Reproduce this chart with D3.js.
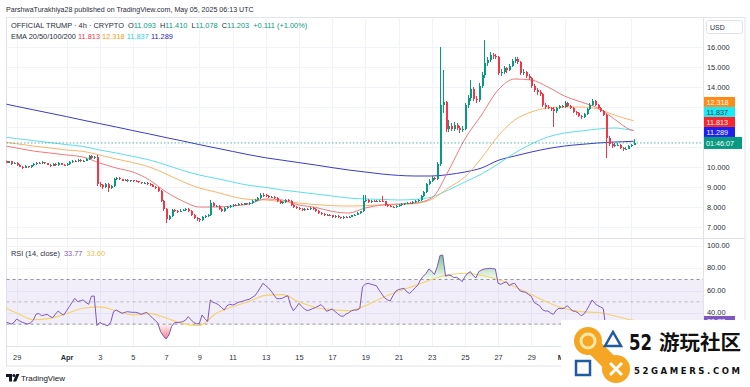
<!DOCTYPE html>
<html>
<head>
<meta charset="utf-8">
<script src="https://cdnjs.cloudflare.com/ajax/libs/d3/7.8.5/d3.min.js"></script>
<style>
  body { margin: 0; background: #fff; }
  svg { display: block; font-family: "Liberation Sans", Arial, sans-serif; }
</style>
</head>
<body>
<svg id="chart" width="750" height="387"></svg>
<script>
// ---- data (4h candles, Mar 28 00:00 UTC -> May 5 04:00 UTC) ----
const firstOpen = 10.32;
const closes = [
  10.38,10.30,10.22,10.28,10.15,10.20, 10.10,10.02,9.95,10.05,9.98,10.08,
  10.15,10.22,10.18,10.25,10.20,10.12, 10.05,10.15,10.10,10.20,10.12,10.08,
  10.15,10.25,10.32,10.28,10.35,10.30, 10.32,10.40,10.55,10.45,10.50,9.15,
  9.10,9.00,9.15,8.95,9.05,9.40,       9.45,9.38,9.32,9.35,9.30,9.33,
  9.30,9.28,9.25,9.20,9.22,9.15,       9.10,9.02,8.95,8.80,8.30,7.90,
  7.40,7.55,7.85,7.80,7.78,7.82,       7.85,7.90,7.80,7.60,7.45,7.40,
  7.35,7.50,7.55,7.60,8.20,8.05,       8.05,7.90,7.80,7.95,8.00,8.05,
  8.10,8.08,8.15,8.12,8.18,8.15,       8.20,8.30,8.35,8.45,8.62,8.58,
  8.55,8.50,8.52,8.45,8.30,8.20,       8.25,8.35,8.30,8.10,7.98,7.95,
  7.90,7.85,7.92,7.88,7.95,7.90,       7.80,7.70,7.65,7.60,7.62,7.58,
  7.50,7.55,7.48,7.45,7.52,7.50,       7.52,7.58,7.62,7.70,7.78,8.30,
  8.35,8.25,8.30,8.28,8.32,8.30,       8.28,8.10,8.05,8.02,8.00,8.05,
  8.10,8.15,8.18,8.22,8.20,8.25,       8.30,8.35,8.55,8.75,9.15,9.30,
  9.45,9.40,10.15,13.10,13.25,11.90,   12.05,11.90,12.10,11.95,11.85,11.92,
  13.10,13.45,13.90,13.40,13.35,14.05, 14.60,15.20,15.35,15.60,15.55,15.50,
  14.70,14.75,14.95,14.85,15.05,15.30, 15.40,15.25,14.70,14.75,14.55,14.45,
  14.05,13.85,13.75,13.65,13.10,13.00, 12.95,12.90,12.80,12.95,13.05,13.00,
  13.20,13.05,12.95,12.75,12.70,12.55, 12.50,12.65,12.90,13.10,13.30,13.10,
  12.95,12.80,12.60,11.45,11.15,11.05, 11.10,11.12,10.95,10.90,10.92,11.05,
  11.092,11.203
];
const highs = [
  10.42,10.41,10.33,10.31,10.30,10.24, 10.23,10.14,10.06,10.08,10.07,10.11,
  10.19,10.26,10.25,10.29,10.27,10.22, 10.15,10.18,10.18,10.23,10.22,10.15,
  10.18,10.28,10.36,10.35,10.39,10.38, 10.36,10.44,10.62,10.58,10.56,10.60,
  9.25,9.14,9.18,9.20,9.10,9.45,       9.52,9.49,9.41,9.39,9.38,9.36,
  9.36,9.33,9.31,9.27,9.25,9.24,       9.18,9.13,9.05,8.98,8.84,8.35,
  7.93,7.60,7.90,7.92,7.86,7.88,       7.92,7.96,7.93,7.83,7.64,7.50,
  7.45,7.54,7.60,7.66,8.35,8.24,       8.12,8.08,7.94,7.98,8.04,8.09,
  8.14,8.13,8.19,8.18,8.22,8.21,       8.24,8.34,8.40,8.50,8.72,8.68,
  8.64,8.60,8.57,8.56,8.48,8.34,       8.30,8.40,8.38,8.33,8.14,8.03,
  7.98,7.94,7.95,7.95,7.99,7.98,       7.93,7.83,7.73,7.69,7.66,7.65,
  7.61,7.58,7.58,7.52,7.55,7.55,       7.55,7.61,7.66,7.74,7.82,8.60,
  8.58,8.40,8.34,8.33,8.36,8.36,       8.55,8.31,8.13,8.08,8.05,8.08,
  8.13,8.19,8.22,8.26,8.26,8.29,       8.34,8.40,8.60,8.80,9.22,9.40,
  9.55,9.52,10.25,16.00,14.85,13.30,   12.35,12.20,12.25,12.20,12.05,12.05,
  13.20,13.60,14.35,13.98,13.55,14.20, 14.75,16.35,15.50,15.75,15.72,15.65,
  15.55,14.90,15.05,15.00,15.15,15.38, 15.52,15.48,15.30,14.88,14.82,14.65,
  14.52,14.15,13.95,13.85,13.72,13.22, 13.08,13.02,12.98,13.00,13.12,13.10,
  13.28,13.25,13.10,13.00,12.82,12.75, 12.60,12.70,12.95,13.18,13.42,13.35,
  13.15,13.00,12.85,12.65,11.55,11.25, 11.18,11.20,11.16,11.02,11.00,11.10,
  11.14,11.41
];
const lows = [
  10.28,10.27,10.18,10.19,10.12,10.13, 10.06,9.98,9.91,9.93,9.95,9.96,
  10.05,10.12,10.14,10.15,10.17,10.09, 10.01,10.03,10.07,10.07,10.09,10.04,
  10.05,10.12,10.22,10.25,10.25,10.27, 10.26,10.29,10.37,10.42,10.40,9.05,
  9.00,8.92,8.96,8.75,8.90,9.02,       9.36,9.34,9.28,9.28,9.26,9.27,
  9.27,9.25,9.21,9.17,9.17,9.12,       9.06,8.98,8.90,8.76,8.25,7.82,
  7.20,7.35,7.50,7.74,7.72,7.74,       7.78,7.81,7.76,7.56,7.40,7.30,
  7.25,7.32,7.45,7.50,7.55,8.00,       7.98,7.87,7.75,7.77,7.91,7.96,
  8.02,8.04,8.05,8.09,8.09,8.12,       8.12,8.17,8.26,8.31,8.42,8.52,
  8.50,8.46,8.46,8.41,8.26,8.15,       8.16,8.21,8.26,8.06,7.94,7.90,
  7.86,7.81,7.82,7.85,7.85,7.87,       7.76,7.66,7.61,7.56,7.57,7.54,
  7.46,7.47,7.44,7.41,7.42,7.46,       7.47,7.49,7.55,7.59,7.67,7.75,
  8.24,8.21,8.22,8.24,8.25,8.26,       8.24,8.06,8.01,7.98,7.96,7.97,
  8.02,8.07,8.12,8.15,8.16,8.17,       8.21,8.26,8.32,8.50,8.71,9.08,
  9.25,9.33,9.36,10.05,12.70,11.75,    11.75,11.78,11.80,11.85,11.70,11.74,
  11.85,12.95,13.30,13.30,13.20,13.25, 13.95,14.45,15.05,15.25,15.40,15.38,
  14.60,14.55,14.65,14.72,14.78,15.00, 15.20,15.15,14.60,14.62,14.45,14.35,
  13.95,13.75,13.62,13.55,13.02,12.90, 12.88,12.82,12.00,12.72,12.90,12.93,
  12.95,13.00,12.90,12.70,12.62,12.48, 12.42,12.45,12.60,12.85,13.05,13.05,
  12.90,12.75,12.55,10.45,11.05,10.95, 11.00,11.04,10.90,10.82,10.85,10.88,
  11.00,11.078
];

// EMA values read once a day (00:00 UTC, Mar 28 -> May 5) plus the live bar
const ema20 = [11.10,10.95,10.80,10.70,10.60,10.50,10.20,9.95,9.75,9.35,8.75,8.30,8.00,8.00,8.05,8.15,8.40,8.35,8.10,7.98,
  7.78,7.70,7.95,8.10,8.15,8.20,8.45,9.80,11.40,12.60,13.85,14.40,14.35,14.00,13.55,13.25,12.95,12.40,11.85,11.813];
const ema50 = [11.27,11.16,11.05,10.95,10.85,10.78,10.60,10.40,10.22,10.00,9.65,9.27,8.95,8.75,8.52,8.38,8.35,8.27,8.20,8.12,
  8.07,8.05,8.07,8.10,8.12,8.17,8.38,8.95,9.50,10.45,11.55,12.35,12.75,12.95,13.00,13.00,12.90,12.60,12.35,12.318];
const ema100 = [11.52,11.42,11.32,11.22,11.12,11.03,10.85,10.70,10.53,10.35,10.10,9.83,9.60,9.43,9.25,9.08,8.98,8.85,8.75,8.65,
  8.55,8.45,8.40,8.38,8.35,8.38,8.50,8.85,9.25,9.65,10.15,10.70,11.15,11.50,11.70,11.80,11.90,11.95,11.85,11.837];
const ema200 = [13.21,13.03,12.86,12.69,12.52,12.34,12.17,12.00,11.82,11.65,11.47,11.30,11.12,10.95,10.78,10.61,10.46,10.34,10.22,10.10,
  9.97,9.85,9.75,9.65,9.58,9.55,9.55,9.62,9.75,9.95,10.33,10.55,10.75,10.92,11.05,11.13,11.20,11.25,11.28,11.289];

// RSI(14) per candle and its moving average (daily + live bar)
const rsi = [
  33.0,32.5,31.8,31.2,30.0,31.5, 34.6,33.0,31.7,30.8,30.0,31.2, 33.5,39.0,39.5,37.6,38.2,38.8,
  37.0,35.8,39.0,41.8,39.5,38.2, 42.0,45.7,49.5,53.2,50.1,51.0, 51.7,49.5,47.8,55.0,55.2,28.7,
  31.5,30.2,29.3,28.6,32.0,41.2, 42.7,41.2,39.7,40.5,41.2,40.8, 40.6,40.6,40.0,38.8,39.8,40.6,
  38.0,35.8,33.5,31.0,23.3,19.5, 16.8,20.3,28.0,31.2,31.5,31.7, 32.2,33.5,36.7,34.0,31.5,30.3,
  30.5,38.2,35.0,32.3,51.7,49.5, 48.7,47.2,45.0,42.7,46.5,47.8, 47.2,48.0,49.5,50.1,50.8,51.7,
  52.2,53.8,55.2,58.5,62.5,66.6, 64.5,62.5,59.5,56.0,52.8,52.8, 53.2,54.5,55.5,47.0,42.0,45.0,
  48.7,46.0,43.5,42.2,42.8,44.0, 44.8,46.2,47.5,45.0,41.5,42.5, 43.6,41.5,39.4,37.5,37.0,39.0,
  40.2,42.0,42.7,42.7,44.0,63.5, 65.8,66.6,65.8,65.1,64.5,60.5, 57.0,53.5,51.8,50.8,55.5,59.5,
  61.0,61.6,62.1,59.0,57.5,59.8, 62.5,65.0,70.0,73.0,75.5,79.5, 77.5,74.5,81.5,91.5,91.9,73.0,
  74.0,73.5,71.8,72.0,70.5,68.0, 72.5,75.6,77.0,73.5,71.5,77.0, 78.5,79.4,79.7,80.0,79.7,79.4,
  66.6,65.7,67.0,68.0,64.5,66.0, 66.6,63.0,59.7,59.0,58.5,56.5, 55.0,49.5,48.0,46.6,43.0,41.8,
  41.8,40.0,38.8,42.5,44.2,43.8, 44.5,46.6,44.0,41.8,41.4,40.0, 37.5,39.0,42.5,47.0,51.7,48.5,
  46.6,45.5,44.0,26.0,24.0,22.5, 24.5,25.5,23.0,22.0,23.5,27.5, 30.5,33.77
];
const rsiMA = [47.0,40.0,34.0,35.2,39.5,44.2,45.5,42.0,38.3,39.7,35.5,30.5,28.8,39.5,45.5,50.5,55.8,56.5,50.0,45.0,
  43.0,42.0,46.5,53.5,59.5,64.5,70.0,74.2,75.6,73.8,70.0,63.5,56.5,49.5,44.0,41.2,40.4,37.5,33.9,33.6];

const priceTicks = [7, 8, 9, 10, 11, 12, 13, 14, 15, 16];
const rsiTicks = [40, 60, 80, 100];
const rsiBands = [70, 50, 30];
const timeTicks = ["2025-03-29","2025-04-01","2025-04-03","2025-04-05","2025-04-07","2025-04-09","2025-04-11",
  "2025-04-13","2025-04-15","2025-04-17","2025-04-19","2025-04-21","2025-04-23","2025-04-25","2025-04-27",
  "2025-04-29","2025-05-01","2025-05-03","2025-05-05"];
const emaLabels = [
  { name: "EMA 200", value: 11.289, color: "#1e1ef0", text: "#fff" },
  { name: "EMA 20",  value: 11.813, color: "#f7262b", text: "#fff" },
  { name: "EMA 100", value: 11.837, color: "#1de9f6", text: "#1a3c44" },
  { name: "EMA 50",  value: 12.318, color: "#fb8c1a", text: "#fff" }
];
const lastPrice = 11.203;
const lastRsi = 33.77;

// ---- layout ----
const W = 750, H = 387;
const L = 6.5, R = 703;
const pTop = 17.5, pBot = 238, rTop = 238, rBot = 346, axisBot = 366;
const WM_X = 561, WM_Y = 320;   // top-left corner of the site watermark
const GREEN = "#089981", RED = "#f23645";

const svg = d3.select("#chart");
const H4 = 4 * 3600e3;
const T0 = Date.UTC(2025, 2, 28, 0);
const candleTime = i => new Date(T0 + i * H4);
const dayTime = i => i < 39 ? new Date(T0 + i * 24 * 3600e3) : new Date(T0 + 229 * H4);

const x = d3.scaleUtc()
  .domain([new Date(Date.UTC(2025, 2, 29)), new Date(Date.UTC(2025, 4, 1))])
  .range([16.7, 564.5]);
const y = d3.scaleLinear().domain([7, 16]).range([227, 47]);
const yr = d3.scaleLinear().domain([40, 100]).range([313, 246]);

const candles = closes.map((c, i) => ({
  t: candleTime(i), o: i === 0 ? firstOpen : closes[i - 1], h: highs[i], l: lows[i], c
}));

const defs = svg.append("defs");
defs.append("clipPath").attr("id", "clipP").append("rect")
  .attr("x", L).attr("y", pTop).attr("width", R - L).attr("height", pBot - pTop);
defs.append("clipPath").attr("id", "clipR").append("rect")
  .attr("x", L).attr("y", rTop).attr("width", R - L).attr("height", rBot - rTop);
const gUp = defs.append("linearGradient").attr("id", "gUp").attr("gradientUnits", "userSpaceOnUse")
  .attr("x1", 0).attr("x2", 0).attr("y1", yr(100)).attr("y2", yr(70));
gUp.append("stop").attr("offset", 0).attr("stop-color", "#2e9e4e").attr("stop-opacity", 0.9);
gUp.append("stop").attr("offset", 1).attr("stop-color", "#4caf50").attr("stop-opacity", 0.05);
const gDn = defs.append("linearGradient").attr("id", "gDn").attr("gradientUnits", "userSpaceOnUse")
  .attr("x1", 0).attr("x2", 0).attr("y1", yr(30)).attr("y2", yr(10));
gDn.append("stop").attr("offset", 0).attr("stop-color", "#f23645").attr("stop-opacity", 0.05);
gDn.append("stop").attr("offset", 1).attr("stop-color", "#f23645").attr("stop-opacity", 0.9);

svg.append("rect").attr("width", W).attr("height", H).attr("fill", "#fff");

// header
svg.append("text").attr("x", 6).attr("y", 12).attr("font-size", 7.1).attr("fill", "#2a2e39")
  .text("ParshwaTurakhiya28 published on TradingView.com, May 05, 2025 06:13 UTC");

// frame
svg.append("rect").attr("x", L).attr("y", pTop).attr("width", 745 - L).attr("height", axisBot - pTop)
  .attr("fill", "none").attr("stroke", "#e0e3eb").attr("stroke-width", 1);

// grid
const grid = svg.append("g").attr("stroke", "#f0f3fa").attr("stroke-width", 1);
timeTicks.forEach(s => {
  const xx = Math.round(x(new Date(s + "T00:00:00Z"))) + 0.5;
  if (xx < R) grid.append("line").attr("x1", xx).attr("x2", xx).attr("y1", pTop).attr("y2", rBot);
});
priceTicks.forEach(v => grid.append("line").attr("x1", L).attr("x2", R)
  .attr("y1", Math.round(y(v)) + 0.5).attr("y2", Math.round(y(v)) + 0.5));
rsiTicks.forEach(v => grid.append("line").attr("x1", L).attr("x2", R)
  .attr("y1", Math.round(yr(v)) + 0.5).attr("y2", Math.round(yr(v)) + 0.5));

// pane separators
svg.append("line").attr("x1", L).attr("x2", 745).attr("y1", pBot + 0.5).attr("y2", pBot + 0.5).attr("stroke", "#e0e3eb");
svg.append("line").attr("x1", L).attr("x2", 745).attr("y1", rBot + 0.5).attr("y2", rBot + 0.5).attr("stroke", "#e0e3eb");
svg.append("line").attr("x1", R + 0.5).attr("x2", R + 0.5).attr("y1", pTop).attr("y2", rBot).attr("stroke", "#e0e3eb");

// ---- price pane ----
const price = svg.append("g").attr("clip-path", "url(#clipP)");
const emaSeries = [
  { v: ema200, c: "#3b3bc9" }, { v: ema100, c: "#5fdcec" }, { v: ema50, c: "#fbb36b" }, { v: ema20, c: "#f0787c" }
];
const emaLine = d3.line().x((d, i) => x(dayTime(i))).y(d => y(d)).curve(d3.curveMonotoneX);
emaSeries.forEach(s => price.append("path").attr("d", emaLine(s.v))
  .attr("fill", "none").attr("stroke", s.c).attr("stroke-width", 1));

price.append("line").attr("x1", L).attr("x2", R).attr("y1", y(lastPrice)).attr("y2", y(lastPrice))
  .attr("stroke", GREEN).attr("stroke-opacity", 0.7).attr("stroke-dasharray", "1.5,2");

const cg = price.append("g").attr("shape-rendering", "crispEdges");
cg.selectAll("line").data(candles).join("line")
  .attr("x1", d => Math.round(x(d.t)) + 0.5).attr("x2", d => Math.round(x(d.t)) + 0.5)
  .attr("y1", d => y(Math.max(d.h, d.o, d.c))).attr("y2", d => y(Math.min(d.l, d.o, d.c)))
  .attr("stroke", d => d.c >= d.o ? GREEN : RED);
cg.selectAll("rect").data(candles).join("rect")
  .attr("x", d => Math.round(x(d.t)) - 0.5).attr("width", 2)
  .attr("y", d => y(Math.max(d.o, d.c)))
  .attr("height", d => Math.max(1, Math.abs(y(d.o) - y(d.c))))
  .attr("fill", d => d.c >= d.o ? GREEN : RED);

// legend
const leg1 = svg.append("text").attr("x", 11).attr("y", 27.5).attr("font-size", 7.4).attr("xml:space", "preserve");
leg1.append("tspan").attr("fill", "#2a2e39").text("OFFICIAL TRUMP · 4h · CRYPTO  O");
leg1.append("tspan").attr("fill", GREEN).text("11.093");
leg1.append("tspan").attr("fill", "#2a2e39").text("  H");
leg1.append("tspan").attr("fill", GREEN).text("11.410");
leg1.append("tspan").attr("fill", "#2a2e39").text("  L");
leg1.append("tspan").attr("fill", GREEN).text("11.078");
leg1.append("tspan").attr("fill", "#2a2e39").text("  C");
leg1.append("tspan").attr("fill", GREEN).text("11.203  +0.111 (+1.00%)");
const leg2 = svg.append("text").attr("x", 11).attr("y", 38.5).attr("font-size", 7.4).attr("xml:space", "preserve");
leg2.append("tspan").attr("fill", "#2a2e39").text("EMA 20/50/100/200 ");
leg2.append("tspan").attr("fill", "#f23645").text("11.813 ");
leg2.append("tspan").attr("fill", "#ff9800").text("12.318 ");
leg2.append("tspan").attr("fill", "#22d3ee").text("11.837 ");
leg2.append("tspan").attr("fill", "#1e1ec8").text("11.289");

// price tags, stacked upward from the live price tag
const pTagTop = y(lastPrice) - 6;
const tagBoxes = [[pTagTop, pTagTop + 12]];
let floor = pTagTop;
const tags = emaLabels.map(l => {
  const bottom = Math.min(y(l.value) + 5, floor);
  floor = bottom - 10;
  tagBoxes.push([floor, bottom]);
  return { ...l, top: floor };
});

// price axis (tick labels hidden behind tags are skipped, as in the original)
const shownTicks = priceTicks.filter(v => !tagBoxes.some(([a, b]) => y(v) + 3.5 > a && y(v) - 3.5 < b));
const pAxis = svg.append("g").attr("transform", `translate(${R},0)`)
  .call(d3.axisRight(y).tickValues(shownTicks).tickSize(0).tickPadding(4).tickFormat(d3.format(".3f")));
pAxis.select(".domain").remove();
pAxis.selectAll("text").attr("font-size", 7.4).attr("fill", "#2a2e39").attr("font-family", "Liberation Sans, Arial");

// USD box
svg.append("rect").attr("x", 706.5).attr("y", 20.5).attr("width", 36).attr("height", 13).attr("rx", 2)
  .attr("fill", "#fff").attr("stroke", "#e0e3eb");
svg.append("text").attr("x", 710).attr("y", 29.5).attr("font-size", 7).attr("fill", "#2a2e39").text("USD");

svg.append("rect").attr("x", 704).attr("y", pTagTop).attr("width", 38).attr("height", 12).attr("fill", GREEN);
svg.append("text").attr("x", 706).attr("y", pTagTop + 9).attr("font-size", 7.2).attr("fill", "#fff").text("01:46:07");
tags.forEach(l => {
  svg.append("rect").attr("x", 704).attr("y", l.top).attr("width", 31).attr("height", 10).attr("fill", l.color);
  svg.append("text").attr("x", 706.5).attr("y", l.top + 7.8).attr("font-size", 7.2).attr("fill", l.text)
    .text(d3.format(".3f")(l.value));
});

// ---- RSI pane ----
const rp = svg.append("g").attr("clip-path", "url(#clipR)");
rp.append("rect").attr("x", L).attr("width", R - L).attr("y", yr(70)).attr("height", yr(30) - yr(70))
  .attr("fill", "#7e57c2").attr("fill-opacity", 0.1);
rsiBands.forEach(v => rp.append("line").attr("x1", L).attr("x2", R).attr("y1", yr(v)).attr("y2", yr(v))
  .attr("stroke", "#787b86").attr("stroke-opacity", v === 50 ? 0.45 : 0.8).attr("stroke-dasharray", "3,3"));
const rx = (d, i) => x(candleTime(i));
rp.append("path").attr("fill", "url(#gUp)")
  .attr("d", d3.area().x(rx).y0(yr(70)).y1(d => yr(Math.max(70, d)))(rsi));
rp.append("path").attr("fill", "url(#gDn)")
  .attr("d", d3.area().x(rx).y0(yr(30)).y1(d => yr(Math.min(30, d)))(rsi));
rp.append("path").attr("fill", "none").attr("stroke", "#f5d36b").attr("stroke-width", 1.1)
  .attr("d", d3.line().x((d, i) => x(dayTime(i))).y(d => yr(d)).curve(d3.curveMonotoneX)(rsiMA));
rp.append("path").attr("fill", "none").attr("stroke", "#7e57c2").attr("stroke-width", 1)
  .attr("d", d3.line().x(rx).y(d => yr(d))(rsi));

const rl = svg.append("text").attr("x", 11).attr("y", 256).attr("font-size", 7.4).attr("xml:space", "preserve");
rl.append("tspan").attr("fill", "#2a2e39").text("RSI (14, close)  ");
rl.append("tspan").attr("fill", "#7e57c2").text("33.77  ");
rl.append("tspan").attr("fill", "#e8c04a").text("33.60");

const rAxis = svg.append("g").attr("transform", `translate(${R},0)`)
  .call(d3.axisRight(yr).tickValues(rsiTicks).tickSize(0).tickPadding(4).tickFormat(d3.format(".2f")));
rAxis.select(".domain").remove();
rAxis.selectAll("text").attr("font-size", 7.4).attr("fill", "#2a2e39").attr("font-family", "Liberation Sans, Arial")
  .attr("dy", "0.2em");
svg.append("rect").attr("x", 704).attr("y", yr(lastRsi) - 4).attr("width", 31).attr("height", 10).attr("fill", "#7e57c2");
svg.append("text").attr("x", 707).attr("y", yr(lastRsi) + 3.8).attr("font-size", 7.2).attr("fill", "#fff")
  .text(lastRsi.toFixed(2));

// ---- time axis (labels fully under the watermark are not drawn) ----
const tickDates = timeTicks.map(s => new Date(s + "T00:00:00Z")).filter(d => x(d) - 6 < WM_X);
const tAxis = svg.append("g").attr("transform", `translate(0,${rBot})`)
  .call(d3.axisBottom(x).tickValues(tickDates).tickSize(0).tickPadding(9)
    .tickFormat(d => d.getUTCDate() === 1 ? d3.utcFormat("%b")(d) : d.getUTCDate()));
tAxis.select(".domain").remove();
tAxis.selectAll("text").attr("font-size", 7.4).attr("fill", "#2a2e39").attr("font-family", "Liberation Sans, Arial")
  .attr("font-weight", d => d.getUTCDate() === 1 ? "bold" : null);

// TradingView mark
const tv = svg.append("g").attr("fill", "#131722");
tv.append("path").attr("d", "M6 374h6v7.5h-3v-4.5h-3z");
tv.append("circle").attr("cx", 13.8).attr("cy", 375.6).attr("r", 1.5);
tv.append("path").attr("d", "M16.2 374h3.2l-3.2 7.5h-3.2z");
svg.append("text").attr("x", 21).attr("y", 381).attr("font-size", 8).attr("fill", "#131722").text("TradingView");

// ---- site watermark ----
const wm = svg.append("g");
wm.append("rect").attr("x", WM_X).attr("y", WM_Y).attr("width", W - WM_X).attr("height", H - WM_Y).attr("fill", "#fff");
wm.append("line").attr("x1", 588).attr("y1", 341).attr("x2", 616).attr("y2", 369)
  .attr("stroke", "#f5a623").attr("stroke-width", 16).attr("stroke-linecap", "round");
wm.append("circle").attr("cx", 588).attr("cy", 341).attr("r", 14).attr("fill", "#f5a623");
wm.append("circle").attr("cx", 616).attr("cy", 369).attr("r", 14).attr("fill", "#f5a623");
wm.append("circle").attr("cx", 588).attr("cy", 341).attr("r", 7).attr("fill", "none")
  .attr("stroke", "#ffe8a6").attr("stroke-width", 3);
wm.append("path").attr("d", "M610 363l12 12M622 363l-12 12").attr("stroke", "#fff").attr("stroke-width", 3);
wm.append("path").attr("d", "M613 332l8 14h-16z").attr("fill", "none").attr("stroke", "#1f5b9e").attr("stroke-width", 2.5);
wm.append("rect").attr("x", 576).attr("y", 361).attr("width", 14).attr("height", 14).attr("fill", "none")
  .attr("stroke", "#1f5b9e").attr("stroke-width", 2.5);
wm.append("text").attr("x", 629).attr("y", 350).attr("font-size", 21).attr("font-weight", "bold")
  .attr("font-family", "DejaVu Sans").attr("textLength", 23).attr("lengthAdjust", "spacingAndGlyphs")
  .attr("fill", "#111").text("52");
wm.append("text").attr("x", 659).attr("y", 350).attr("font-size", 20).attr("font-weight", "bold")
  .attr("font-family", "Noto Sans CJK SC").attr("textLength", 82).attr("lengthAdjust", "spacingAndGlyphs")
  .attr("fill", "#111").text("游玩社区");
wm.append("text").attr("x", 634).attr("y", 374).attr("font-size", 8.5).attr("font-weight", "bold")
  .attr("font-family", "DejaVu Sans").attr("textLength", 106).attr("lengthAdjust", "spacing")
  .attr("fill", "#111").text("52GAMERS.COM");
</script>
</body>
</html>
